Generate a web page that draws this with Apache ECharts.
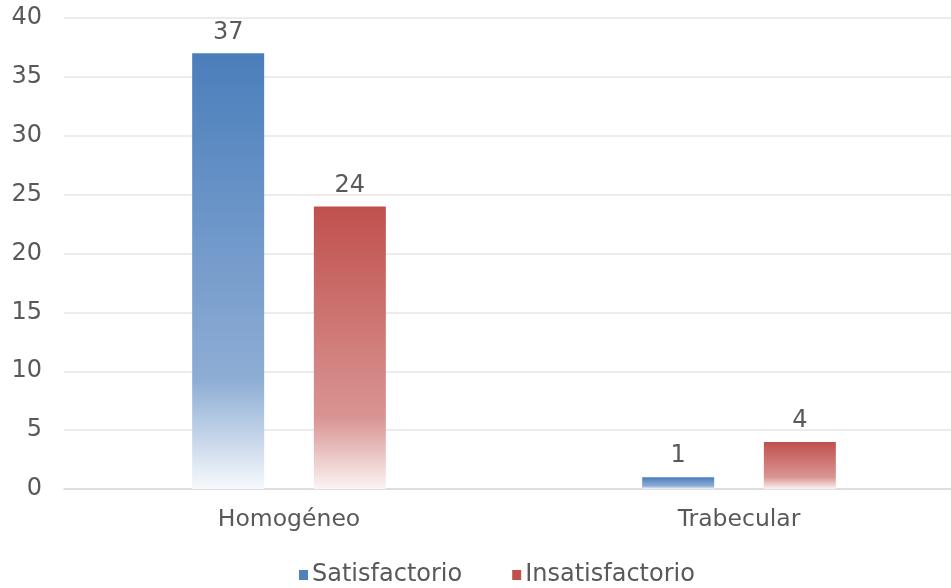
<!DOCTYPE html>
<html>
<head>
<meta charset="utf-8">
<script src="https://cdn.jsdelivr.net/npm/echarts@6/dist/echarts.min.js"></script>
<style>
  html, body { margin: 0; padding: 0; background: #fff; overflow: hidden; }
  /* the plot runs a little past the right edge of the picture */
  #chart { width: 964px; height: 588px; }
</style>
</head>
<body>
<div id="chart"></div>
<script>
const categories = ['Homogéneo', 'Trabecular']
const seriesNames = ['Satisfactorio', 'Insatisfactorio']
const satisfactorio = [37, 1]
const insatisfactorio = [24, 4]

const textColor = '#595959'
const font = 'DejaVu Sans'

// top -> ~75% -> bottom
function fade(top, mid, bottom) {
  return new echarts.graphic.LinearGradient(0, 0, 0, 1, [
    { offset: 0, color: top },
    { offset: 0.75, color: mid },
    { offset: 1, color: bottom }
  ])
}

const chart = echarts.init(document.getElementById('chart'))
chart.setOption({
  backgroundColor: '#fff',
  animation: false,
  grid: {
    left: 64,
    right: 0,
    top: 18,
    bottom: 99
  },
  legend: {
    left: 294,
    top: 558,
    itemWidth: 9,
    itemHeight: 10,
    itemGap: 50,
    icon: 'rect',
    textStyle: { color: textColor, fontFamily: font, fontSize: 24, padding: [0, 0, 0, -1] },
    data: [
      { name: seriesNames[0], itemStyle: { color: '#4f81bd' } },
      { name: seriesNames[1], itemStyle: { color: '#c0504d' } }
    ]
  },
  xAxis: {
    type: 'category',
    data: categories,
    axisLine: { lineStyle: { color: '#d9d9d9', width: 1.5 } },
    axisTick: { show: false },
    axisLabel: { color: textColor, fontFamily: font, fontSize: 23.5, margin: 19 }
  },
  yAxis: {
    type: 'value',
    min: 0,
    max: 40,
    interval: 5,
    axisLine: { show: false },
    axisTick: { show: false },
    axisLabel: { color: textColor, fontFamily: font, fontSize: 24, margin: 22 },
    splitLine: { lineStyle: { color: '#e6e6e6', width: 1.5 } }
  },
  series: [{
    name: seriesNames[0],
    type: 'bar',
    data: satisfactorio,
    barWidth: 72,
    barGap: '69%',
    itemStyle: { color: fade('#4a7ebb', '#8eadd5', '#f6f9fc') },
    label: { show: true, position: 'top', distance: 9, color: textColor, fontFamily: font, fontSize: 24 }
  }, {
    name: seriesNames[1],
    type: 'bar',
    data: insatisfactorio,
    barWidth: 72,
    barGap: '69%',
    itemStyle: { color: fade('#c0504d', '#d99593', '#fcf3f3') },
    label: { show: true, position: 'top', distance: 9, color: textColor, fontFamily: font, fontSize: 24 }
  }]
})
</script>
</body>
</html>
